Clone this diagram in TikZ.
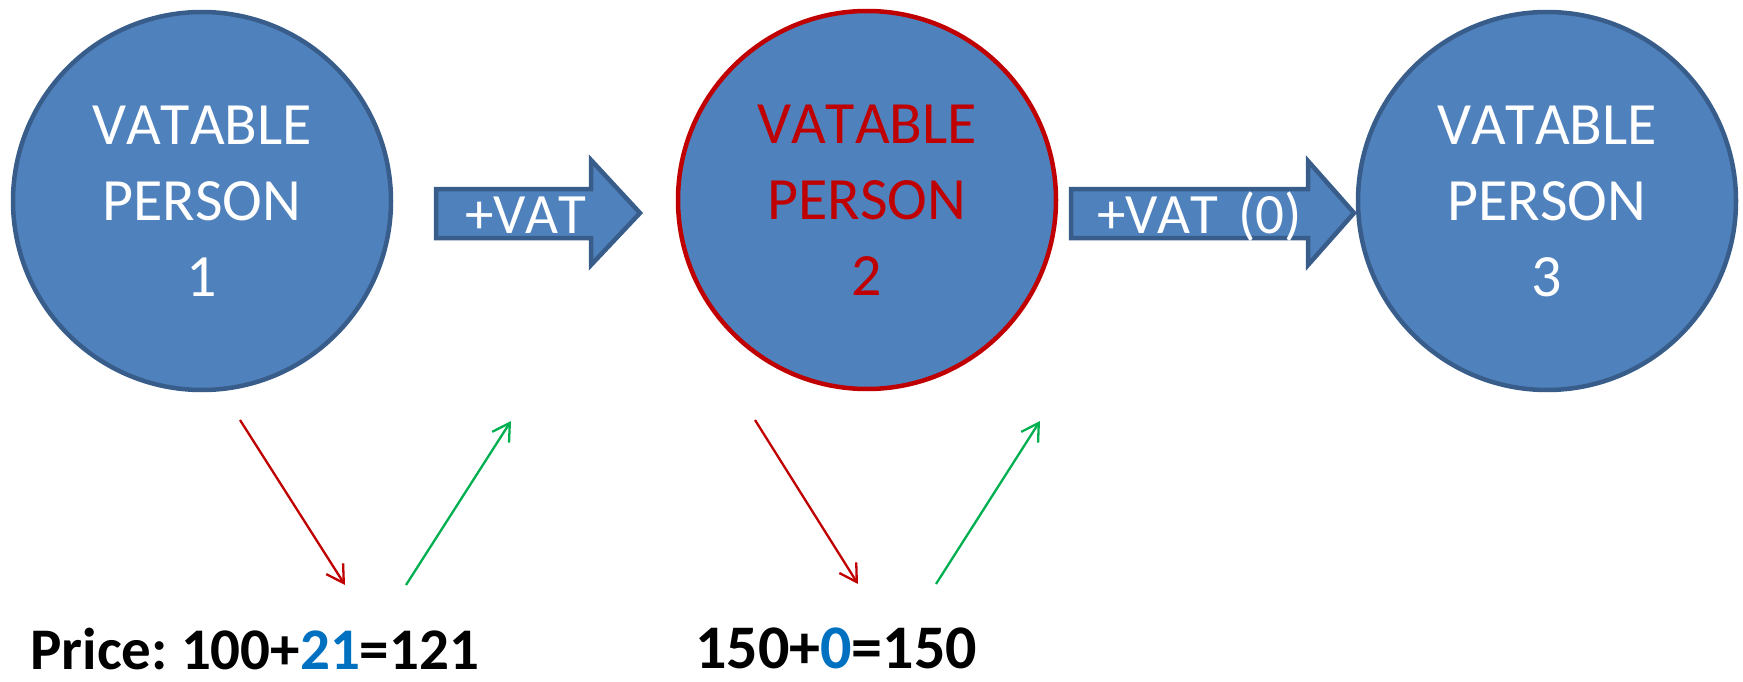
\documentclass[tikz,border=0pt]{standalone}
\usepackage{fontspec}
\setmainfont{Carlito}[Kerning=Off]
\usetikzlibrary{arrows.meta}
\definecolor{cfill}{HTML}{4F81BD}
\definecolor{cborder}{HTML}{385D8A}
\definecolor{cred}{HTML}{C00000}
\definecolor{cgreen}{HTML}{00B050}
\definecolor{cblue}{HTML}{0070C0}
\tikzset{
  person/.style={circle, fill=cfill, draw=cborder, line width=4.5pt, minimum size=378pt, inner sep=0pt,
    text=white, align=center, font=\fontsize{60}{76}\selectfont},
  blockarrow/.style={fill=cfill, draw=cborder, line width=4.5pt, line join=miter},
  arrowtext/.style={text=white, font=\fontsize{57}{68}\selectfont, inner sep=0pt, anchor=base west},
  pricetext/.style={font=\bfseries\fontsize{59}{70}\selectfont, inner sep=0pt, anchor=base west},
  flowred/.style={draw=cred, line width=2.3pt, -{Straight Barb[length=17pt,width=20pt,line width=2.3pt]}},
  flowgreen/.style={draw=cgreen, line width=2.3pt, -{Straight Barb[length=17pt,width=20pt,line width=2.3pt]}}
}
\frenchspacing
\begin{document}
\begin{tikzpicture}[x=1pt,y=-1pt]
\useasboundingbox (0,0) rectangle (1743,682);
% persons
\node[person] (p1) at (202,201) {VATABLE\\PERSON\\1};
\node[person, draw=cred, text=cred] (p2) at (867,200) {VATABLE\\PERSON\\2};
\node[person] (p3) at (1547,201) {VATABLE\\PERSON\\3};
% block arrows
\draw[blockarrow] (436,189) -- (591,189) -- (591,160) -- (640,213) -- (591,265) -- (591,238) -- (436,238) -- cycle;
\node[arrowtext] (a1) at (465,233) {+VAT};
\draw[blockarrow] (1071,189) -- (1308,189) -- (1308,161) -- (1354,213) -- (1308,265) -- (1308,238) -- (1071,238) -- cycle;
\node[arrowtext] (a2) at (1097,233) {\makebox[205pt][s]{+VAT (0)}};
% small arrows
\coordinate (r1s) at (240,420); \coordinate (r1e) at (345,585);
\coordinate (g1s) at (406,585); \coordinate (g1e) at (511,421);
\coordinate (r2s) at (755,420); \coordinate (r2e) at (858,584);
\coordinate (g2s) at (936,584); \coordinate (g2e) at (1040,421);
\draw[flowred] (r1s) -- (r1e);
\draw[flowgreen] (g1s) -- (g1e);
\draw[flowred] (r2s) -- (r2e);
\draw[flowgreen] (g2s) -- (g2e);
% prices
\node[pricetext] (price1) at (30,669) {Price: 100+\textcolor{cblue}{21}=121};
\node[pricetext, font=\bfseries\fontsize{62}{70}\selectfont] (price2) at (695,668) {150+\textcolor{cblue}{0}=150};
\end{tikzpicture}
\end{document}
